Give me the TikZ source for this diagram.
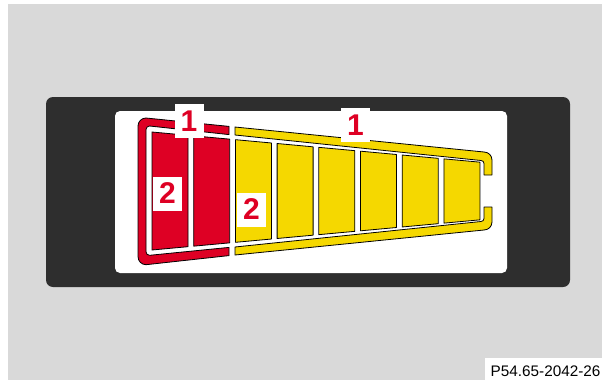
\documentclass[tikz,border=0pt]{standalone}
\usepackage{fontspec}
\setmainfont{Liberation Sans}
\usepackage{tikz}
\usepackage{xcolor}
\definecolor{bggray}{RGB}{217,217,217}
\definecolor{panel}{RGB}{46,46,46}
\definecolor{dispred}{RGB}{222,0,36}
\definecolor{dispyellow}{RGB}{245,216,0}

\begin{document}
\begin{tikzpicture}[x=1pt,y=-1pt,
    cell/.style={draw=black,line width=0.8pt,line join=round},
    bar/.style={draw=black,line width=0.8pt,line join=round},
    tag/.style={fill=white,text=dispred,font=\fontsize{30}{30}\selectfont\bfseries,
      minimum width=29pt,minimum height=34pt,inner sep=0pt}]
   \useasboundingbox (0,0) rectangle (602,380);
   \fill[bggray] (7.5,4) rectangle (602,380);
   \fill[panel,rounded corners=7pt] (46,97) rectangle (570,287);
   \fill[white,rounded corners=5pt] (115,111) rectangle (507,273);

   % red bracket
   \path[bar,fill=dispred] (229,126.4) -- (146,118)
      arc[start angle=270,end angle=180,radius=8] -- (138,256.7)
      arc[start angle=180,end angle=90,radius=8] -- (229,255.6) -- (229,247.4)
      -- (149.5,255.3) arc[start angle=90,end angle=180,radius=3.5] -- (146,129.5)
      arc[start angle=180,end angle=270,radius=3.5] -- (229,134.6) -- cycle;
   % yellow bracket, upper and lower part
   \path[bar,fill=dispyellow] (235,127) -- (484,152)
      arc[start angle=270,end angle=360,radius=8] -- (492,175) -- (484,175) -- (484,163.5)
      arc[start angle=0,end angle=-90,radius=3] -- (235,135) -- cycle;
   \path[bar,fill=dispyellow] (235,255) -- (484,230)
      arc[start angle=90,end angle=0,radius=8] -- (492,207) -- (484,207) -- (484,218.5)
      arc[start angle=0,end angle=90,radius=3] -- (235,247) -- cycle;

   % cells
   \foreach \i in {0,...,7}{
      \pgfmathsetmacro\xl{152+41.7*\i}
      \pgfmathsetmacro\xr{\xl+36}
      \pgfmathsetmacro\hl{59-0.092*(\xl-152)}
      \pgfmathsetmacro\hr{59-0.092*(\xr-152)}
      \ifnum\i<2 \def\cellcol{dispred}\else \def\cellcol{dispyellow}\fi
      \path[cell,fill=\cellcol] (\xl,191-\hl) -- (\xr,191-\hr) -- (\xr,191+\hr) -- (\xl,191+\hl) -- cycle;
   }

   \node[tag] (t1a) at (189,121) {1};
   \node[tag] (t1b) at (355.5,125) {1};
   \node[tag] (t2a) at (167.5,193.5) {2};
   \node[tag] (t2b) at (251.5,209.5) {2};

   \fill[white] (485,358) rectangle (602,380);
   \node[anchor=base west,inner sep=0pt,font=\fontsize{15.3}{15.3}\selectfont] (ref) at (490.5,376) {P54.65-2042-26};
\end{tikzpicture}
\end{document}
